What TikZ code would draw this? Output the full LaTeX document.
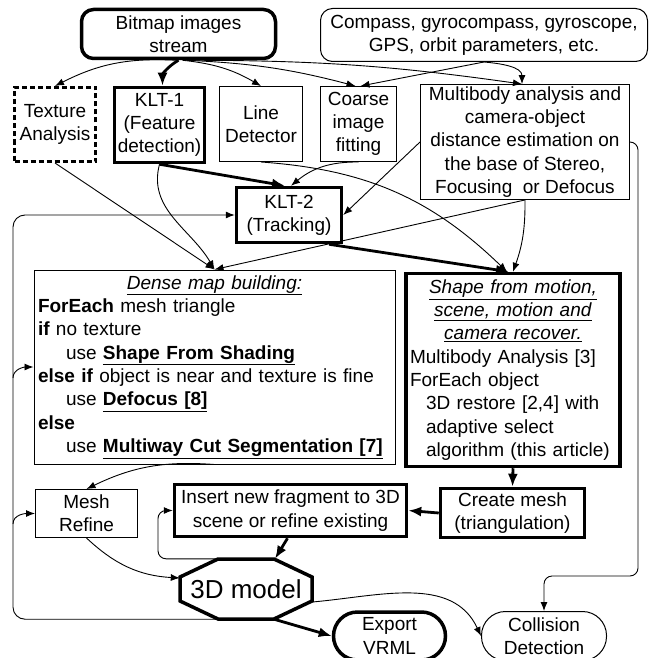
\documentclass[tikz,border=0pt]{standalone}
\usepackage{fontspec}
\setmainfont{Liberation Sans}
\usetikzlibrary{arrows.meta}

\tikzset{
  box/.style={draw, line width=1pt, align=center, inner sep=2pt},
  boldbox/.style={draw, line width=3.5pt, align=center, inner sep=2pt},
  link/.style={-{Latex[length=9pt,width=7pt]}, line width=0.9pt},
  boldlink/.style={-{Latex[length=13pt,width=10pt]}, line width=2.8pt},
}

\begin{document}
\begin{tikzpicture}[x=1pt,y=1pt,font=\fontsize{19}{23.3}\selectfont]
\useasboundingbox (0,0) rectangle (652,-658);

% inputs
\node[boldbox, rounded corners=12pt, minimum width=194pt, minimum height=49pt] (bitmap) at (178.5,-34) {Bitmap images\\stream};
\node[box, rounded corners=12pt, minimum width=327pt, minimum height=53pt] (compass) at (484,-35) {Compass, gyrocompass, gyroscope,\\GPS, orbit parameters, etc.};

% first row
\node[box, line width=3pt, dash pattern=on 5pt off 3pt, minimum width=81pt, minimum height=74pt] (texture) at (55,-124.5) {Texture\\Analysis};
\node[boldbox, minimum width=90pt, minimum height=75pt] (klt1) at (159.5,-125) {KLT-1\\(Feature\\detection)};
\node[box, minimum width=83pt, minimum height=75pt] (lined) at (261,-124) {Line\\Detector};
\node[box, minimum width=76pt, minimum height=75pt] (coarse) at (358.5,-124) {Coarse\\image\\fitting};
\node[box, minimum width=209pt, minimum height=111pt] (multi) at (525,-142) {Multibody analysis and\\camera-object\\distance estimation on\\the base of Stereo,\\Focusing~ or Defocus};
\node[boldbox, minimum width=105pt, minimum height=55pt] (klt2) at (289,-215) {KLT-2\\(Tracking)};

% processing
\node[box, text width=353pt, align=left, minimum height=194pt, inner sep=4pt] (dense) at (214.5,-367) {%
{\centering\underline{\textit{Dense map building:}}\par}
\textbf{ForEach} mesh triangle\\
\textbf{if} no texture\\
\hspace*{28pt}use \underline{\textbf{Shape From Shading}}\\
\textbf{else if} object is near and texture is fine\\
\hspace*{28pt}use \underline{\textbf{Defocus [8]}}\\
\textbf{else}\\
\mbox{\hspace*{28pt}use \underline{\textbf{Multiway Cut Segmentation [7]}}}};
\node[boldbox, text width=206pt, align=left, minimum height=193pt, inner sep=4pt] (shape) at (513,-370) {%
{\centering\underline{\textit{Shape from motion,}}\\\underline{\textit{scene, motion and}}\\\underline{\textit{camera recover.}}\par}
Multibody Analysis [3]\\
ForEach object\\
\hspace*{16pt}3D restore [2,4] with\\
\hspace*{16pt}adaptive select\\
\hspace*{16pt}algorithm (this article)};

% meshes
\node[box, minimum width=102pt, minimum height=48pt] (mesh) at (86.5,-513.5) {Mesh\\Refine};
\node[boldbox, minimum width=232pt, minimum height=52pt] (insert) at (290.5,-510.5) {Insert new fragment to 3D\\scene or refine existing};
\node[boldbox, minimum width=144pt, minimum height=49pt] (create) at (512.5,-513) {Create mesh\\(triangulation)};

% outputs
\node[minimum width=132pt, minimum height=60pt, font=\fontsize{26}{30}\selectfont] (model) at (246,-589) {3D model};
\draw[line width=3.5pt] (model.center) ++(-28,30) -- ++(56,0) -- ++(38,-18) -- ++(0,-24) -- ++(-38,-18) -- ++(-56,0) -- ++(-38,18) -- ++(0,24) -- cycle;
\node[boldbox, rounded corners=24pt, minimum width=112pt, minimum height=48pt] (export) at (389.5,-636) {Export\\VRML};
\node[box, rounded corners=24pt, minimum width=125pt, minimum height=49pt] (coll) at (544,-636) {Collision\\Detection};

% from the image stream and sensors
\draw[link] ([xshift=-2pt]bitmap.south) to[bend right=15] (texture.north);
\draw[boldlink] (bitmap.south) to[out=-150,in=90] ([xshift=3pt]klt1.north);
\draw[link] ([xshift=4pt]bitmap.south) to[bend left=12] (lined.north);
\draw[link] ([xshift=8pt]bitmap.south) to[bend left=6] ([xshift=-3pt]coarse.north);
\draw[link] ([xshift=8pt]bitmap.south) to[bend left=4] ([xshift=-3pt]multi.north);
\draw[link] (compass.south) -- ([xshift=2pt]coarse.north);
\draw[link] (compass.south) to[out=-5,in=90] ([xshift=-3pt]multi.north);

% tracking
\draw[boldlink] (klt1.south) -- ([xshift=-4pt]klt2.north);
\draw[link] (coarse.south) to[bend right=20] ([xshift=2pt]klt2.north);
\draw[link] (multi.west) -- (klt2.east);

% into the two builders
\draw[link] (texture.south) -- (dense.north);
\draw[link] (klt1.south) to[out=-105,in=120] (dense.north);
\draw[link] (multi.south) -- (dense.north);
\draw[link] (lined.south) to[bend left=20] ([xshift=-6pt]shape.north);
\draw[link] (multi.south) to[bend left=10] (shape.north);
\draw[boldlink] ([xshift=40pt]klt2.south) -- ([xshift=-4pt]shape.north);

% mesh and model
\draw[link] (dense.south) to[bend right=15] (mesh.north);
\draw[link] (mesh.south) to[bend right=20] ([yshift=11pt]model.west);
\draw[boldlink] (shape.south) -- (create.north);
\draw[boldlink] (create.west) -- (insert.east);
\draw[boldlink] ([xshift=-3pt]insert.south) -- ([xshift=29pt]model.north);
\draw[link, rounded corners=8pt] ([xshift=-28pt]model.north) -- ++(-60,0) |- (insert.west);
\draw[boldlink] ([xshift=28pt]model.south) -- (export.west);
\draw[link] ([yshift=-13pt]model.east) to[out=5,in=115] (coll.west);
\draw[link, rounded corners=8pt] (multi.east) -- ++(8,0) -- ++(0,-434) -| (coll.north);

% feedback loop
\draw[link, rounded corners=12pt] ([xshift=-28pt]model.south) -- ++(-205,0) |- (klt2.west);
\coordinate (hookdense) at (13,-378);
\coordinate (hookmesh) at (13,-524);
\draw[link] (hookdense) to[out=90,in=180] (dense.west);
\draw[link] (hookmesh) to[out=90,in=180] (mesh.west);
\end{tikzpicture}
\end{document}
